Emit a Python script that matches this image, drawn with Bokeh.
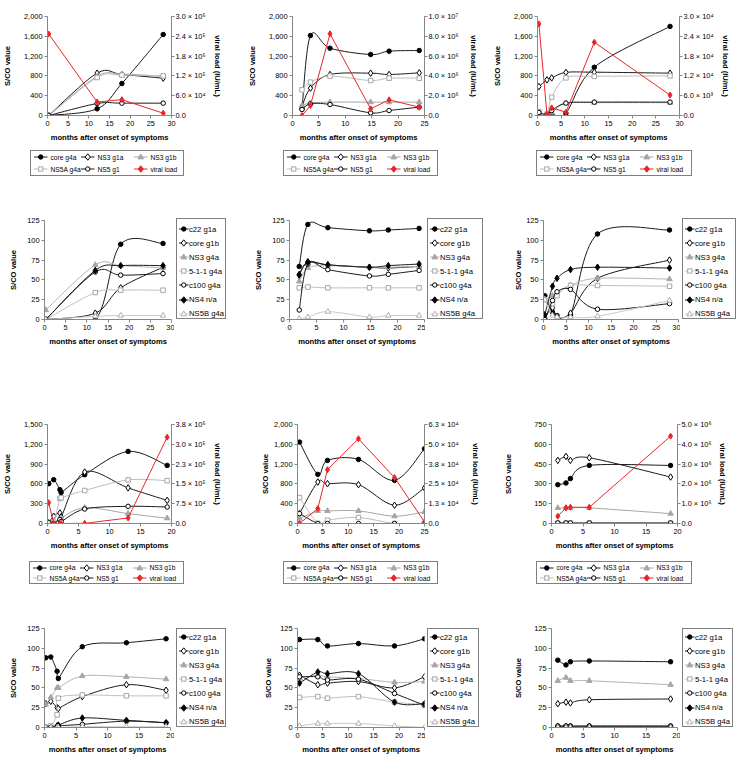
from bokeh.plotting import figure
from bokeh.models import (LinearAxis, Range1d, FixedTicker, NumeralTickFormatter, Label, Div)
from bokeh.layouts import column, row
from bokeh.embed import file_html
from bokeh.resources import INLINE

# ------------------------------------------------------------------ data
a_labels = ["core g4a", "NS3 g1a", "NS3 g1b", "NS5A g4a", "NS5 g1", "viral load"]
b_labels = ["c22 g1a", "core g1b", "NS3 g4a", "5-1-1 g4a", "c100 g4a", "NS4 n/a", "NS5B g4a"]

# patient 1
p1_months = [0.3, 12, 18, 28]
p1_core_g4a = [0, 135, 646, 1636]
p1_ns3_g1a = [0, 855, 828, 754]
p1_ns3_g1b = [0, 790, 835, 790]
p1_ns5a_g4a = [0, 768, 815, 801]
p1_ns5_g1 = [0, 242, 249, 249]
p1_viral = [247000, 41000, 48000, 7000]
p1_c22_g1a = [0, 0, 95, 96]
p1_core_g1b = [0, 8, 40, 66]
p1_ns3_g4a = [12, 69, 68, 65]
p1_511_g4a = [0, 34, 37, 37]
p1_c100_g4a = [0, 60, 56, 58]
p1_ns4 = [0, 62, 68, 68]
p1_ns5b_g4a = [0, 4, 5, 5]

# patient 3
p3_months = [1.8, 3.4, 7.1, 14.8, 18.3, 24]
p3_core_g4a = [135, 1616, 1360, 1232, 1300, 1313]
p3_ns3_g1a = [182, 552, 828, 855, 828, 862]
p3_ns3_g1b = [200, 250, 270, 270, 270, 270]
p3_ns5a_g4a = [518, 673, 795, 707, 754, 754]
p3_ns5_g1 = [121, 236, 222, 54, 101, 168]
p3_viral = [0, 1010000, 8250000, 670000, 1580000, 840000]
p3_c22_g1a = [67, 120, 116, 112, 113, 115]
p3_core_g1b = [57, 73, 69, 66, 65, 67]
p3_ns3_g4a = [48, 65, 68, 66, 66, 67]
p3_511_g4a = [40, 41, 40, 40, 40, 40]
p3_c100_g4a = [12, 70, 63, 55, 57, 62]
p3_ns4 = [56, 72, 69, 66, 68, 70]
p3_ns5b_g4a = [1, 3, 10, 3, 5, 5]

# patient 4
p4_months = [0.3, 2, 3, 6, 12, 28]
p4_core_g4a = [0, 0, 35, 45, 975, 1800]
p4_ns3_g1a = [585, 720, 760, 870, 875, 855]
p4_ns3_g1b = [40, 30, 60, 250, 260, 260]
p4_ns5a_g4a = [80, 30, 370, 760, 790, 800]
p4_ns5_g1 = [60, 15, 100, 250, 270, 270]
p4_viral = [27750, 300, 2300, 1000, 22200, 6200]
p4_c22_g1a = [30, 9, 5, 6, 108, 113]
p4_core_g1b = [2, 15, 3, 8, 52, 75]
p4_ns3_g4a = [25, 30, 33, 43, 52, 51]
p4_511_g4a = [25, 20, 30, 43, 43, 42]
p4_c100_g4a = [0, 24, 35, 38, 13, 20]
p4_ns4 = [6, 42, 52, 63, 66, 65]
p4_ns5b_g4a = [25, 5, 3, 3, 4, 24]

# patient 5
p5_months = [0.2, 1, 2, 2.2, 6, 13, 19.3]
p5_core_g4a = [604, 664, 513, 470, 739, 1092, 880]
p5_ns3_g1a = [10, 110, 160, 100, 780, 540, 350]
p5_ns3_g1b = [0, 30, 60, 80, 240, 150, 80]
p5_ns5a_g4a = [0, 20, 380, 390, 500, 660, 650]
p5_ns5_g1 = [10, 0, 60, 30, 220, 260, 250]
p5_viral = [79000, 0, 0, 0, 500, 21000, 327000]
p5_c22_g1a = [88, 89, 71, 62, 102, 107, 112]
p5_core_g1b = [30, 33, 25, 24, 39, 54, 47]
p5_ns3_g4a = [29, 38, 50, 50, 65, 64, 61]
p5_511_g4a = [0, 2, 16, 37, 41, 40, 40]
p5_c100_g4a = [0, 0, 1, 2, 4, 8, 6]
p5_ns4 = [0, 0, 2, 3, 12, 9, 6]
p5_ns5b_g4a = [0, 0, 0, 0, 1, 1, 1]

# patient 8
p8_months = [0.4, 4, 5.9, 12, 19.1, 25]
p8_core_g4a = [1644, 993, 1275, 1295, 872, 1510]
p8_ns3_g1a = [201, 839, 805, 785, 369, 718]
p8_ns3_g1b = [100, 255, 255, 255, 148, 235]
p8_ns5a_g4a = [523, 0, 67, 121, 0, 0]
p8_ns5_g1 = [201, 0, 0, 0, 0, 0]
p8_viral = [0, 9400, 34000, 53500, 29000, 1000]
p8_c22_g1a = [111, 111, 103, 106, 103, 112]
p8_core_g1b = [66, 54, 56, 58, 50, 64]
p8_ns3_g4a = [62, 66, 64, 62, 57, 58]
p8_511_g4a = [38, 39, 37, 39, 32, 29]
p8_c100_g4a = [64, 64, 60, 61, 43, 28]
p8_ns4 = [56, 70, 68, 68, 32, 30]
p8_ns5b_g4a = [2, 5, 5, 5, 2, 0]

# patient 10
p10_months = [1, 2.3, 3, 6, 18.9]
p10_core_g4a = [294, 307, 340, 440, 440]
p10_ns3_g1a = [478, 508, 478, 498, 352]
p10_ns3_g1b = [118, 118, 118, 118, 75]
p10_ns5a_g4a = [3, 3, 3, 3, 3]
p10_ns5_g1 = [4, 4, 4, 4, 4]
p10_viral = [370000, 790000, 820000, 820000, 4410000]
p10_c22_g1a = [85, 79, 83, 84, 83]
p10_core_g1b = [30, 32, 31, 35, 36]
p10_ns3_g4a = [59, 63, 59, 59, 54]
p10_511_g4a = [0, 0, 0, 0, 0]
p10_c100_g4a = [2, 2, 2, 2, 2]
p10_ns4 = [1, 1, 1, 1, 1]
p10_ns5b_g4a = [0, 0, 0, 0, 0]

# axis settings
x_ticks_30 = [0, 5, 10, 15, 20, 25, 30]
x_ticks_25 = [0, 5, 10, 15, 20, 25]
x_ticks_20 = [0, 5, 10, 15, 20]
y_ticks_2000 = [0, 400, 800, 1200, 1600, 2000]
y_ticks_1500 = [0, 300, 600, 900, 1200, 1500]
y_ticks_750 = [0, 150, 300, 450, 600, 750]
y_ticks_125 = [0, 25, 50, 75, 100, 125]
vl_ticks_p1 = [0, 60000, 120000, 180000, 240000, 300000]
vl_labels_p1 = ["0.0", "6.0 × 10⁴", "1.2 × 10⁵", "1.8 × 10⁵", "2.4 × 10⁵", "3.0 × 10⁵"]
vl_ticks_p3 = [0, 2000000, 4000000, 6000000, 8000000, 10000000]
vl_labels_p3 = ["0.0", "2.0 × 10⁶", "4.0 × 10⁶", "6.0 × 10⁶", "8.0 × 10⁶", "1.0 × 10⁷"]
vl_ticks_p4 = [0, 6000, 12000, 18000, 24000, 30000]
vl_labels_p4 = ["0.0", "6.0 × 10³", "1.2 × 10⁴", "1.8 × 10⁴", "2.4 × 10⁴", "3.0 × 10⁴"]
vl_ticks_p5 = [0, 75000, 150000, 225000, 300000, 375000]
vl_labels_p5 = ["0.0", "7.5 × 10⁴", "1.5 × 10⁵", "2.3 × 10⁵", "3.0 × 10⁵", "3.8 × 10⁵"]
vl_ticks_p8 = [0, 12500, 25000, 37500, 50000, 62500]
vl_labels_p8 = ["0.0", "1.3 × 10⁴", "2.5 × 10⁴", "3.8 × 10⁴", "5.0 × 10⁴", "6.3 × 10⁴"]
vl_ticks_p10 = [0, 1000000, 2000000, 3000000, 4000000, 5000000]
vl_labels_p10 = ["0.0", "1.0 × 10⁶", "2.0 × 10⁶", "3.0 × 10⁶", "4.0 × 10⁶", "5.0 × 10⁶"]

# ------------------------------------------------------------------ styles
FONT = "Liberation Sans"
AXC = "#868686"
RED = "#E8262A"
A_STYLE = [
    dict(line="#1a1a1a", marker="circle", fill="#000000", mline="#000000", size=4.5, smooth=True),
    dict(line="#1a1a1a", marker="diamond", fill="white", mline="#000000", size=6.5, smooth=True),
    dict(line="#A6A6A6", marker="triangle", fill="#A6A6A6", mline="#A6A6A6", size=5.5, smooth=True),
    dict(line="#BDBDBD", marker="square", fill="white", mline="#A6A6A6", size=4.5, smooth=True),
    dict(line="#1a1a1a", marker="circle", fill="white", mline="#000000", size=4.5, smooth=True),
    dict(line=RED, marker="diamond", fill=RED, mline=RED, size=6, smooth=False),
]
B_STYLE = [
    dict(line="#1a1a1a", marker="circle", fill="#000000", mline="#000000", size=4.5, smooth=True),
    dict(line="#1a1a1a", marker="diamond", fill="white", mline="#000000", size=6.5, smooth=True),
    dict(line="#B4B4B4", marker="triangle", fill="#A6A6A6", mline="#A6A6A6", size=5.5, smooth=True),
    dict(line="#C0C0C0", marker="square", fill="white", mline="#A6A6A6", size=4.5, smooth=True),
    dict(line="#1a1a1a", marker="circle", fill="white", mline="#000000", size=4.5, smooth=True),
    dict(line="#1a1a1a", marker="diamond", fill="#000000", mline="#000000", size=6.5, smooth=True),
    dict(line="#C8C8C8", marker="triangle", fill="white", mline="#B0B0B0", size=5.5, smooth=True),
]


def bezier_parts(xs, ys):
    n = len(xs)
    d = dict(x0=[], y0=[], x1=[], y1=[], cx0=[], cy0=[], cx1=[], cy1=[])
    for i in range(n - 1):
        a = i - 1 if i > 0 else i
        b = i + 2 if i + 2 < n else i + 1
        d["x0"].append(xs[i]); d["y0"].append(ys[i])
        d["x1"].append(xs[i + 1]); d["y1"].append(ys[i + 1])
        d["cx0"].append(xs[i] + (xs[i + 1] - xs[a]) / 6.0)
        d["cy0"].append(ys[i] + (ys[i + 1] - ys[a]) / 6.0)
        d["cx1"].append(xs[i + 1] - (xs[b] - xs[i]) / 6.0)
        d["cy1"].append(ys[i + 1] - (ys[b] - ys[i]) / 6.0)
    return d


def style_axis(ax, label, standoff):
    ax.axis_label = label
    ax.axis_label_text_font = FONT
    ax.axis_label_text_font_size = "7.6px"
    ax.axis_label_text_font_style = "bold"
    ax.axis_label_text_color = "black"
    ax.axis_label_standoff = standoff
    ax.major_label_text_font = FONT
    ax.major_label_text_font_size = "7.4px"
    ax.major_label_text_color = "black"
    ax.major_label_standoff = 2
    ax.axis_line_color = AXC
    ax.major_tick_line_color = AXC
    ax.major_tick_out = 3
    ax.major_tick_in = 0
    ax.minor_tick_line_color = None


def panel(box, frame, xmax, xticks, ymax, yticks, title, months, series, labels, styles,
          ylab_standoff=5, vl=None):
    bx, by, bw, bh = box
    fl, fr, ft, fb = frame
    p = figure(width=bw, height=bh, output_backend="svg", toolbar_location=None,
               min_border_left=fl - bx, min_border_right=bx + bw - fr,
               min_border_top=ft - by, min_border_bottom=by + bh - fb,
               x_range=Range1d(0, xmax), y_range=Range1d(0, ymax))
    p.outline_line_color = None
    p.background_fill_color = "white"
    p.border_fill_color = "white"
    p.xgrid.visible = False
    p.ygrid.visible = False
    style_axis(p.xaxis[0], "months after onset of symptoms", 4)
    p.xaxis[0].ticker = FixedTicker(ticks=xticks)
    style_axis(p.yaxis[0], "S/CO value", ylab_standoff)
    p.yaxis[0].ticker = FixedTicker(ticks=yticks)
    p.yaxis[0].formatter = NumeralTickFormatter(format="0,0")

    if vl is not None:
        vmax, vticks, vlabels, vstand = vl
        p.extra_y_ranges = {"vl": Range1d(0, vmax)}
        ax = LinearAxis(y_range_name="vl", ticker=FixedTicker(ticks=vticks),
                        major_label_overrides={t: s for t, s in zip(vticks, vlabels)})
        style_axis(ax, "viral load (IU/mL)", vstand)
        ax.major_label_standoff = 1
        p.add_layout(ax, "right")

    for lab, st, ys in zip(labels, styles, series):
        rng = "vl" if lab == "viral load" else "default"
        if st["smooth"]:
            p.bezier(source=bezier_parts(months, ys), x0="x0", y0="y0", x1="x1", y1="y1",
                     cx0="cx0", cy0="cy0", cx1="cx1", cy1="cy1",
                     line_color=st["line"], line_width=1, y_range_name=rng)
        else:
            p.line(x=months, y=ys, line_color=st["line"], line_width=1, y_range_name=rng)
        p.scatter(x=months, y=ys, marker=st["marker"], size=st["size"],
                  fill_color=st["fill"], line_color=st["mline"], line_width=1,
                  y_range_name=rng)

    p.add_layout(Label(x=xmax / 2.0, y=ymax, x_units="data", y_units="data", y_offset=10,
                       text=title, text_align="center", text_baseline="middle",
                       text_font=FONT, text_font_size="8.5px", text_font_style="bold"))
    return p


# ------------------------------------------------------------------ legends (HTML boxes)
def marker_svg(st, cx, cy):
    m, f, s = st["marker"], st["fill"], st["mline"]
    if m == "circle":
        return f'<circle cx="{cx}" cy="{cy}" r="2.2" fill="{f}" stroke="{s}" stroke-width="1"/>'
    if m == "diamond":
        pts = f"{cx},{cy - 3.2} {cx + 2.6},{cy} {cx},{cy + 3.2} {cx - 2.6},{cy}"
        return f'<polygon points="{pts}" fill="{f}" stroke="{s}" stroke-width="1"/>'
    if m == "triangle":
        pts = f"{cx},{cy - 3} {cx + 2.8},{cy + 1.9} {cx - 2.8},{cy + 1.9}"
        return f'<polygon points="{pts}" fill="{f}" stroke="{s}" stroke-width="1"/>'
    return (f'<rect x="{cx - 2.1}" y="{cy - 2.1}" width="4.2" height="4.2" fill="{f}" '
            f'stroke="{s}" stroke-width="1"/>')


def item_html(st, label, gx, gw, tx, yc):
    svg = (f'<svg width="{gw}" height="10" style="position:absolute;left:{gx}px;top:{yc - 5}px;'
           f'overflow:visible"><line x1="0" y1="5" x2="{gw}" y2="5" stroke="{st["line"]}" '
           f'stroke-width="1"/>' + marker_svg(st, gw / 2.0, 5) + '</svg>')
    txt = (f'<div style="position:absolute;left:{tx}px;top:{yc - 4.5}px;line-height:9px;'
           f'height:9px;white-space:nowrap;">{label}</div>')
    return svg + txt


def legend_div(w, h, bl, bt, bw, bh, labels, styles, kind, first=10):
    parts = []
    if kind == "below":
        colx = [3, 50, 103]
        rowy = [6.3, 18.3] if bh > 24 else [5.5, 16]
        for i, (lab, st) in enumerate(zip(labels, styles)):
            r, c = divmod(i, 3)
            parts.append(item_html(st, lab, colx[c], 13.5, colx[c] + 16.5, rowy[r]))
        fs = "6.7px"
    else:
        for i, (lab, st) in enumerate(zip(labels, styles)):
            parts.append(item_html(st, lab, 1.5, 9.5, 12, first + 14.1 * i))
        fs = "7.7px"
    html = (f'<div style="position:relative;width:{w}px;height:{h}px;overflow:hidden;'
            f'font-family:\'Liberation Sans\',Arial,sans-serif;font-size:{fs};color:#000;">'
            f'<div style="position:absolute;left:{bl}px;top:{bt}px;width:{bw}px;height:{bh}px;'
            f'box-sizing:border-box;border:1px solid #7F7F7F;background:white;">'
            + "".join(parts) + '</div></div>')
    return Div(text=html, width=w, height=h, margin=(0, 0, 0, 0))


# ------------------------------------------------------------------ layout (page coords)
cols = [(0, 245), (245, 245), (490, 247)]


def below_cell(c, cy, h_main, h_leg, frame, box, args, kwargs):
    cx, cw = cols[c]
    main = panel((cx, cy, cw, h_main), frame, *args, **kwargs)
    bl, bt, bw, bh = box
    leg = legend_div(cw, h_leg, bl - cx, bt - (cy + h_main), bw, bh, a_labels, A_STYLE, "below")
    return column(main, leg)


def right_cell(c, cy, h, split, frame, box, first, args, kwargs):
    cx, cw = cols[c]
    main = panel((cx, cy, split - cx, h), frame, *args, **kwargs)
    bl, bt, bw, bh = box
    leg = legend_div(cx + cw - split, h, bl - split, bt - cy, bw, bh, b_labels, B_STYLE, "right",
                     first)
    return row(main, leg)


# row 1 : cells y 0..190 (plot 0..146, legend 146..190)
r1 = row(
    below_cell(0, 0, 146, 44, (44, 171, 16, 115), (30, 150, 154, 26),
               (30, x_ticks_30, 2000, y_ticks_2000, "patient 1", p1_months,
                [p1_core_g4a, p1_ns3_g1a, p1_ns3_g1b, p1_ns5a_g4a, p1_ns5_g1, p1_viral],
                a_labels, A_STYLE), dict(ylab_standoff=9, vl=(300000, vl_ticks_p1, vl_labels_p1, 4))),
    below_cell(1, 0, 146, 44, (289, 424, 16, 115), (283, 150, 155, 26),
               (25, x_ticks_25, 2000, y_ticks_2000, "patient 3", p3_months,
                [p3_core_g4a, p3_ns3_g1a, p3_ns3_g1b, p3_ns5a_g4a, p3_ns5_g1, p3_viral],
                a_labels, A_STYLE), dict(ylab_standoff=9, vl=(10000000, vl_ticks_p3, vl_labels_p3, 8))),
    below_cell(2, 0, 146, 44, (534, 679, 16, 115), (536, 150, 156, 26),
               (30, x_ticks_30, 2000, y_ticks_2000, "patient 4", p4_months,
                [p4_core_g4a, p4_ns3_g1a, p4_ns3_g1b, p4_ns5a_g4a, p4_ns5_g1, p4_viral],
                a_labels, A_STYLE), dict(ylab_standoff=9, vl=(30000, vl_ticks_p4, vl_labels_p4, 4))),
)

# row 2 : cells y 190..385
r2 = row(
    right_cell(0, 190, 195, 174, (44, 171, 220, 319), (176, 218, 50, 101), 10,
               (30, x_ticks_30, 125, y_ticks_125, "patient 1", p1_months,
                [p1_c22_g1a, p1_core_g1b, p1_ns3_g4a, p1_511_g4a, p1_c100_g4a, p1_ns4, p1_ns5b_g4a],
                b_labels, B_STYLE), dict(ylab_standoff=6)),
    right_cell(1, 190, 195, 425, (289, 424, 220, 319), (427, 218, 56, 101), 10,
               (25, x_ticks_25, 125, y_ticks_125, "patient 3", p3_months,
                [p3_c22_g1a, p3_core_g1b, p3_ns3_g4a, p3_511_g4a, p3_c100_g4a, p3_ns4, p3_ns5b_g4a],
                b_labels, B_STYLE), dict(ylab_standoff=6)),
    right_cell(2, 190, 195, 680, (543, 678, 220, 319), (682, 218, 54, 101), 10,
               (30, x_ticks_30, 125, y_ticks_125, "patient 4", p4_months,
                [p4_c22_g1a, p4_core_g1b, p4_ns3_g4a, p4_511_g4a, p4_c100_g4a, p4_ns4, p4_ns5b_g4a],
                b_labels, B_STYLE), dict(ylab_standoff=0)),
)

# row 3 : cells y 385..600 (plot 385..557, legend 557..600)
r3 = row(
    below_cell(0, 385, 172, 43, (44, 171, 424, 523), (29, 561, 155, 23),
               (20, x_ticks_20, 1500, y_ticks_1500, "patient 5", p5_months,
                [p5_core_g4a, p5_ns3_g1a, p5_ns3_g1b, p5_ns5a_g4a, p5_ns5_g1, p5_viral],
                a_labels, A_STYLE), dict(ylab_standoff=9, vl=(375000, vl_ticks_p5, vl_labels_p5, 4))),
    below_cell(1, 385, 172, 43, (297, 424, 424, 523), (283, 561, 155, 23),
               (25, x_ticks_25, 2000, y_ticks_2000, "patient 8", p8_months,
                [p8_core_g4a, p8_ns3_g1a, p8_ns3_g1b, p8_ns5a_g4a, p8_ns5_g1, p8_viral],
                a_labels, A_STYLE), dict(ylab_standoff=1, vl=(62500, vl_ticks_p8, vl_labels_p8, 9))),
    below_cell(2, 385, 172, 43, (551, 677, 424, 523), (536, 561, 156, 23),
               (20, x_ticks_20, 750, y_ticks_750, "patient 10", p10_months,
                [p10_core_g4a, p10_ns3_g1a, p10_ns3_g1b, p10_ns5a_g4a, p10_ns5_g1, p10_viral],
                a_labels, A_STYLE), dict(ylab_standoff=18, vl=(5000000, vl_ticks_p10, vl_labels_p10, 4))),
)

# row 4 : cells y 600..758
r4 = row(
    right_cell(0, 600, 158, 174, (44, 170, 628, 727), (176, 628, 50, 99), 8,
               (20, x_ticks_20, 125, y_ticks_125, "patient 5", p5_months,
                [p5_c22_g1a, p5_core_g1b, p5_ns3_g4a, p5_511_g4a, p5_c100_g4a, p5_ns4, p5_ns5b_g4a],
                b_labels, B_STYLE), dict(ylab_standoff=6)),
    right_cell(1, 600, 158, 425, (297, 424, 628, 727), (427, 628, 52, 99), 8,
               (25, x_ticks_25, 125, y_ticks_125, "patient 8", p8_months,
                [p8_c22_g1a, p8_core_g1b, p8_ns3_g4a, p8_511_g4a, p8_c100_g4a, p8_ns4, p8_ns5b_g4a],
                b_labels, B_STYLE), dict(ylab_standoff=4)),
    right_cell(2, 600, 158, 680, (551, 677, 628, 727), (682, 628, 51, 99), 8,
               (20, x_ticks_20, 125, y_ticks_125, "patient 10", p10_months,
                [p10_c22_g1a, p10_core_g1b, p10_ns3_g4a, p10_511_g4a, p10_c100_g4a, p10_ns4, p10_ns5b_g4a],
                b_labels, B_STYLE), dict(ylab_standoff=8)),
)

layout = column(r1, r2, r3, r4)
open("out.html", "w").write(file_html(layout, INLINE))
